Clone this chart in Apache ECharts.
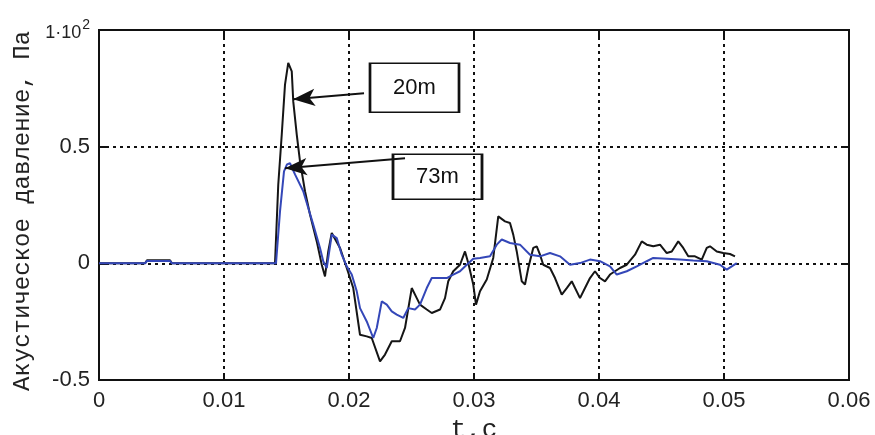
<!DOCTYPE html>
<html>
<head>
<meta charset="utf-8">
<script src="https://cdn.jsdelivr.net/npm/echarts@6/dist/echarts.min.js"></script>
<style>
  html, body { margin: 0; padding: 0; background: #fff; }
  #chart { width: 875px; height: 435px; }
</style>
</head>
<body>
<div id="chart"></div>
<script>
// 20 м — время, с
const t20 = [0, 0.00368, 0.00384, 0.00568, 0.00584, 0.01408, 0.01434, 0.01462, 0.01488, 0.01514,
  0.01542, 0.01554, 0.01582, 0.01608, 0.01648, 0.01688, 0.01742, 0.01782, 0.01808, 0.01834,
  0.01862, 0.01928, 0.01982, 0.02034, 0.02088, 0.02142, 0.02182, 0.02248, 0.02288, 0.02342,
  0.02408, 0.02448, 0.02502, 0.02542, 0.02568, 0.02622, 0.02662, 0.02728, 0.02768, 0.02794,
  0.02834, 0.02888, 0.02928, 0.02954, 0.02994, 0.03016, 0.03048, 0.03102, 0.03154, 0.03194,
  0.03248, 0.03288, 0.03314, 0.03342, 0.03382, 0.03408, 0.03434, 0.03474, 0.03502, 0.03528,
  0.03554, 0.03608, 0.03648, 0.03702, 0.03742, 0.03782, 0.03848, 0.03888, 0.03928, 0.03968,
  0.04008, 0.04048, 0.04088, 0.04128, 0.04168, 0.04222, 0.04288, 0.04342, 0.04382, 0.04434,
  0.04488, 0.04542, 0.04582, 0.04634, 0.04674, 0.04714, 0.04768, 0.04822, 0.04862, 0.04888,
  0.04942, 0.04994, 0.05048, 0.05088]
// 20 м — давление, x100 Па
const p20 = [0, 0, 0.013, 0.013, 0, 0, 0.337, 0.552, 0.766, 0.859,
  0.823, 0.694, 0.552, 0.437, 0.309, 0.209, 0.094, -0.006, -0.056, 0.051,
  0.130, 0.066, -0.020, -0.106, -0.306, -0.313, -0.320, -0.420, -0.391, -0.334,
  -0.334, -0.277, -0.106, -0.149, -0.177, -0.198, -0.213, -0.198, -0.149, -0.077,
  -0.034, -0.006, 0.051, 0.001, -0.091, -0.177, -0.120, -0.069, 0.023, 0.201,
  0.180, 0.173, 0.123, 0.051, -0.077, -0.091, -0.020, 0.066, 0.073, 0.037,
  -0.006, -0.020, -0.063, -0.134, -0.106, -0.077, -0.149, -0.106, -0.063, -0.034,
  -0.063, -0.077, -0.048, -0.034, -0.020, -0.006, 0.037, 0.094, 0.080, 0.073,
  0.080, 0.044, 0.051, 0.094, 0.066, 0.030, 0.030, 0.016, 0.066, 0.073,
  0.051, 0.044, 0.040, 0.030]

// 73 м
const t73 = [0, 0.00368, 0.00384, 0.00568, 0.00584, 0.01416, 0.01448, 0.0148, 0.01504, 0.01528,
  0.01568, 0.01634, 0.01674, 0.01714, 0.01768, 0.01794, 0.01822, 0.01862, 0.01902, 0.01942,
  0.01982, 0.02022, 0.02062, 0.02088, 0.02142, 0.02194, 0.02222, 0.02262, 0.02302, 0.02342,
  0.02382, 0.02434, 0.02474, 0.02528, 0.02568, 0.02622, 0.02662, 0.02728, 0.02782, 0.02834,
  0.02888, 0.02942, 0.02994, 0.03048, 0.03128, 0.03182, 0.03222, 0.03288, 0.03368, 0.03448,
  0.03528, 0.03608, 0.03688, 0.03768, 0.03848, 0.03928, 0.04008, 0.04088, 0.04142, 0.04222,
  0.04302, 0.04382, 0.04434, 0.04542, 0.04648, 0.04754, 0.04862, 0.04968, 0.05022, 0.05102]
const p73 = [0, 0, 0.01, 0.01, 0, 0, 0.223, 0.394, 0.424, 0.429,
  0.381, 0.309, 0.237, 0.166, 0.066, 0.009, -0.020, 0.123, 0.108, 0.037,
  -0.013, -0.048, -0.120, -0.192, -0.249, -0.320, -0.277, -0.163, -0.177, -0.206,
  -0.220, -0.234, -0.192, -0.198, -0.177, -0.106, -0.063, -0.063, -0.063, -0.048,
  -0.034, -0.006, 0.020, 0.023, 0.030, 0.080, 0.102, 0.087, 0.080, 0.037,
  0.030, 0.044, 0.030, -0.006, 0.001, 0.016, 0.009, -0.013, -0.048, -0.034,
  -0.013, 0.009, 0.023, 0.020, 0.016, 0.012, 0.009, -0.006, -0.027, 0.001]

// подписи: [центр рамки, начало стрелки, конец стрелки]
const note20 = { text: '20m', box: [0.02524, 0.752], from: [0.0212, 0.729], to: [0.01552, 0.703] }
const note73 = { text: '73m', box: [0.02708, 0.371], from: [0.02448, 0.45], to: [0.01488, 0.407] }

const chart = echarts.init(document.getElementById('chart'))

const pairs = (xs, ys) => xs.map((x, i) => [x, ys[i]])

const tickFont = "'Liberation Sans Narrow', 'Liberation Sans', Arial, sans-serif"
const monoFont = "'Liberation Mono', 'DejaVu Sans Mono', monospace"

function noteLine (n) {
  return [{ coord: n.from, symbol: 'none' }, { coord: n.to, symbol: 'arrow', symbolSize: [13, 22] }]
}
function noteBox (n, h) {
  return {
    coord: n.box,
    symbol: 'rect',
    symbolSize: [89, h],
    itemStyle: { color: 'rgba(0,0,0,0)', borderColor: '#111', borderWidth: 2 },
    label: { show: true, position: 'inside', formatter: n.text, color: '#111', fontSize: 22, fontFamily: tickFont }
  }
}

const gridLine = { color: '#111', width: 2, type: [3, 4] }
const frameLine = { show: true, onZero: false, lineStyle: { color: '#111', width: 2 } }
const inTick = { show: true, inside: true, length: 7, lineStyle: { color: '#111', width: 2 } }

const option = {
  animation: false,
  backgroundColor: '#fff',
  grid: {
    left: 99,
    right: 26,
    top: 30,
    bottom: 55,
    outerBoundsMode: 'none',
    containLabel: false,
    show: true,
    borderColor: '#111',
    borderWidth: 2
  },
  xAxis: [
    {
      type: 'value',
      min: 0,
      max: 0.06,
      interval: 0.01,
      name: 't,c',
      nameLocation: 'middle',
      nameGap: 35,
      nameTextStyle: { fontFamily: monoFont, fontSize: 26, color: '#222' },
      axisLine: frameLine,
      axisTick: inTick,
      axisLabel: {
        margin: 10,
        color: '#222',
        fontSize: 22,
        fontFamily: tickFont,
        formatter: (v) => String(Number(v.toFixed(2)))
      },
      splitLine: { show: true, lineStyle: gridLine }
    },
    {
      type: 'value',
      position: 'top',
      min: 0,
      max: 0.06,
      interval: 0.01,
      axisLine: frameLine,
      axisTick: inTick,
      axisLabel: { show: false },
      splitLine: { show: false }
    }
  ],
  yAxis: [
    {
      type: 'value',
      min: -0.5,
      max: 1,
      interval: 0.5,
      name: 'Акустическое давление, Па',
      nameLocation: 'middle',
      nameRotate: 90,
      nameGap: 63,
      nameTextStyle: { fontFamily: monoFont, fontSize: 24, color: '#222', padding: [0, 12, 0, 0] },
      axisLine: frameLine,
      axisTick: inTick,
      axisLabel: {
        margin: 9,
        color: '#222',
        fontSize: 22,
        fontFamily: tickFont,
        formatter: (v) => v === 1 ? '{a|1·10}{b|2}' : String(v),
        rich: {
          a: { fontSize: 18, fontFamily: tickFont, color: '#222', padding: [6, 0, 0, 0] },
          b: { fontSize: 14, fontFamily: tickFont, color: '#222', verticalAlign: 'top', padding: [0, 0, 6, 1] }
        }
      },
      splitLine: { show: true, lineStyle: gridLine }
    },
    {
      type: 'value',
      position: 'right',
      min: -0.5,
      max: 1,
      interval: 0.5,
      axisLine: frameLine,
      axisTick: inTick,
      axisLabel: { show: false },
      splitLine: { show: false }
    }
  ],
  series: [
    {
      name: '20m',
      type: 'line',
      data: pairs(t20, p20),
      symbol: 'none',
      lineStyle: { color: '#151515', width: 2 },
      markLine: {
        silent: true,
        animation: false,
        symbol: ['none', 'arrow'],
        label: { show: false },
        lineStyle: { color: '#111', width: 2, type: 'solid' },
        data: [noteLine(note20), noteLine(note73)]
      },
      markPoint: {
        silent: true,
        animation: false,
        data: [noteBox(note20, 49), noteBox(note73, 45)]
      }
    },
    {
      name: '73m',
      type: 'line',
      data: pairs(t73, p73),
      symbol: 'none',
      lineStyle: { color: '#3447b8', width: 2 }
    }
  ]
}

chart.setOption(option)
</script>
</body>
</html>
